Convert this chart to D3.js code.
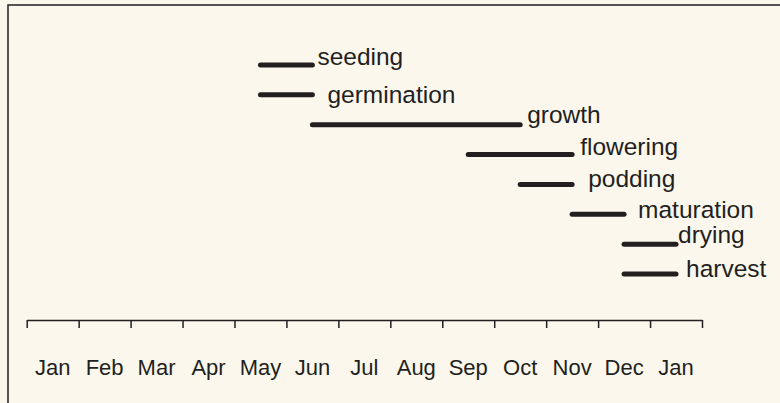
<!DOCTYPE html>
<html>
<head>
<meta charset="utf-8">
<script src="https://cdn.jsdelivr.net/npm/d3@7"></script>
<style>
  body { margin: 0; background: #fbf7ed; }
  text { font-family: "Liberation Sans", Arial, sans-serif; fill: #231f20; }
</style>
</head>
<body>
<div id="chart"></div>
<script>
// month labels along the axis (the last Jan is the following year)
const months = ["Jan", "Feb", "Mar", "Apr", "May", "Jun", "Jul", "Aug", "Sep", "Oct", "Nov", "Dec", "Jan"];

// stage names, start and end month (index into months)
const stages = ["seeding", "germination", "growth", "flowering", "podding", "maturation", "drying", "harvest"];
const startMonth = [4, 4, 5, 8, 9, 10, 11, 11];
const endMonth = [5, 5, 9, 10, 10, 11, 12, 12];

// label nudges relative to the end of each bar
const labelDx = [5, 15, 7, 8, 16, 14, 2, 10];
const labelDy = [0, 8, -2, 0, 3, 4, -1, 3];

const width = 780, height = 403;

const svg = d3.select("#chart")
    .append("svg")
    .attr("width", width)
    .attr("height", height);

svg.append("rect")
    .attr("width", width)
    .attr("height", height)
    .attr("fill", "#fbf7ed");

// frame, only the top and left edges are visible
svg.append("rect")
    .attr("x", 8)
    .attr("y", 5)
    .attr("width", 800)
    .attr("height", 420)
    .attr("fill", "none")
    .attr("stroke", "#2b2b2b")
    .attr("stroke-width", 1.6);

const x = d3.scaleLinear()
    .domain([0, months.length])
    .range([26.7, 702]);

const y = d3.scalePoint()
    .domain(stages)
    .range([65, 274]);

const axisY = 320;

const axis = svg.append("g")
    .attr("transform", `translate(0, ${axisY})`)
    .call(d3.axisBottom(x)
        .tickValues(d3.range(months.length + 1))
        .tickFormat("")
        .tickSize(8)
        .tickSizeOuter(0));
axis.select(".domain").attr("stroke", "#231f20").attr("stroke-width", 1.5);
axis.selectAll(".tick line").attr("stroke", "#231f20").attr("stroke-width", 1.5);

svg.append("g")
    .selectAll("text")
    .data(months)
    .join("text")
    .attr("x", (d, i) => x(i + 0.5))
    .attr("y", 375)
    .attr("text-anchor", "middle")
    .attr("font-size", 22)
    .text(d => d);

const rows = stages.map((s, i) => ({ name: s, start: startMonth[i], end: endMonth[i], i }));

svg.append("g")
    .selectAll("line")
    .data(rows)
    .join("line")
    .attr("x1", d => x(d.start + 0.5))
    .attr("x2", d => x(d.end + 0.5))
    .attr("y1", d => y(d.name))
    .attr("y2", d => y(d.name))
    .attr("stroke", "#231f20")
    .attr("stroke-width", 5)
    .attr("stroke-linecap", "round");

svg.append("g")
    .selectAll("text")
    .data(rows)
    .join("text")
    .attr("x", d => x(d.end + 0.5) + labelDx[d.i])
    .attr("y", d => y(d.name) + labelDy[d.i])
    .attr("font-size", 24.5)
    .text(d => d.name);
</script>
</body>
</html>
